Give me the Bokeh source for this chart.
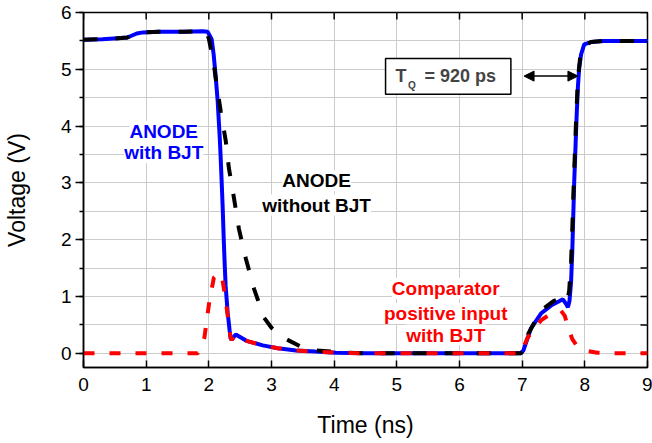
import math
from bokeh.plotting import figure
from bokeh.models import (Range1d, FixedTicker, SingleIntervalTicker,
                          Label, BoxAnnotation, Arrow, NormalHead)
from bokeh.embed import file_html
from bokeh.resources import INLINE

# ---- data (time in ns, voltage in V) ----
t_blue = [0, 0.3, 0.6, 0.7, 0.85, 0.95, 1.2, 1.6, 1.9, 1.98, 2.045, 2.077, 2.109,
          2.141, 2.173, 2.188, 2.204, 2.22, 2.236, 2.252, 2.268, 2.30, 2.332, 2.348,
          2.365, 2.43, 2.6, 2.86, 3.1, 3.39, 3.7, 4.03, 4.5, 5.0, 6.0, 6.98, 7.02,
          7.14, 7.3, 7.46, 7.65, 7.7, 7.73, 7.755, 7.78, 7.80, 7.815, 7.83, 7.85,
          7.87, 7.89, 7.91, 7.94, 7.99, 8.1, 8.3, 9.0]
v_blue = [5.52, 5.53, 5.55, 5.56, 5.63, 5.65, 5.66, 5.66, 5.67, 5.66, 5.53, 5.26, 4.88,
          4.44, 3.82, 3.47, 3.04, 2.60, 2.07, 1.60, 1.19, 0.72, 0.40, 0.26,
          0.24, 0.33, 0.22, 0.14, 0.09, 0.05, 0.03, 0.01, 0.0, 0.0, 0.0, 0.0, 0.05,
          0.44, 0.70, 0.84, 0.95, 0.87, 0.81, 0.92, 1.25, 1.8, 2.4, 3.0, 3.6,
          4.2, 4.7, 5.02, 5.26, 5.44, 5.48, 5.5, 5.5]

t_black = [0, 0.3, 0.6, 0.7, 0.85, 0.95, 1.2, 1.6, 1.9, 1.96, 2.0, 2.08, 2.11, 2.19,
           2.27, 2.32, 2.40, 2.48, 2.59, 2.72, 2.88, 3.0, 3.18, 3.5, 3.71, 4.2,
           4.5, 5.0, 6.0, 6.98, 7.02, 7.1, 7.3, 7.5, 7.62, 7.68, 7.72, 7.75, 7.78,
           7.80, 7.82, 7.84, 7.86, 7.88, 7.90, 7.93, 7.98, 8.1, 8.3, 9.0]
v_black = [5.52, 5.53, 5.55, 5.56, 5.63, 5.65, 5.66, 5.66, 5.67, 5.65, 5.54, 5.09, 4.84, 4.26,
           3.74, 3.26, 2.74, 2.19, 1.67, 1.14, 0.63, 0.45, 0.28, 0.10, 0.05, 0.01,
           0.0, 0.0, 0.0, 0.0, 0.06, 0.35, 0.75, 0.92, 0.97, 0.94, 0.92, 1.1, 1.6,
           2.2, 2.9, 3.5, 4.1, 4.6, 4.95, 5.25, 5.42, 5.48, 5.5, 5.5]

t_red = [0, 1.0, 1.82, 1.88, 1.93, 2.01, 2.08, 2.16, 2.22, 2.27, 2.32, 2.35, 2.365,
         2.43, 2.6, 2.86, 3.1, 3.39, 3.7, 4.03, 4.5, 5.0, 6.0, 6.98, 7.09, 7.3,
         7.46, 7.62, 7.68, 7.73, 7.80, 7.88, 8.0, 8.2, 8.5, 9.0]
v_red = [0.0, 0.0, 0.0, 0.1, 0.28, 0.93, 1.33, 1.42, 1.28, 0.93, 0.5, 0.26, 0.24,
         0.33, 0.22, 0.14, 0.09, 0.05, 0.03, 0.01, 0.0, 0.0, 0.0, 0.0, 0.28, 0.58,
         0.70, 0.75, 0.66, 0.46, 0.25, 0.12, 0.05, 0.01, 0.0, 0.0]

x_ticks = [0, 1, 2, 3, 4, 5, 6, 7, 8, 9]
y_half_ticks = [0, 0.5, 1, 1.5, 2, 2.5, 3, 3.5, 4, 4.5, 5, 5.5, 6]
X_MIN, X_MAX = 0, 9
Y_MIN, Y_MAX = -0.25, 6

FONT = "Liberation Sans"

p = figure(frame_width=564, frame_height=355, output_backend="svg",
           toolbar_location=None,
           x_range=Range1d(X_MIN, X_MAX), y_range=Range1d(Y_MIN, Y_MAX),
           min_border_left=73, min_border_right=5, min_border_top=12,
           min_border_bottom=10)
p.background_fill_color = "white"
p.border_fill_color = "white"
p.outline_line_color = "black"
p.outline_line_width = 1.5

# grid
p.xgrid.ticker = FixedTicker(ticks=x_ticks)
p.ygrid.ticker = FixedTicker(ticks=y_half_ticks)
for g in (p.xgrid, p.ygrid):
    g.grid_line_color = "#cccccc"
    g.grid_line_width = 1

# bottom axis
xa = p.xaxis[0]
xa.ticker = FixedTicker(ticks=x_ticks)
xa.major_tick_in = 7
xa.major_tick_out = 0
xa.minor_tick_line_color = None
xa.major_label_standoff = 10
xa.axis_label = "Time (ns)"
xa.axis_label_standoff = 18

# left axis
ya = p.yaxis[0]
ya.ticker = SingleIntervalTicker(interval=1, num_minor_ticks=2)
ya.major_tick_in = 0
ya.major_tick_out = 8
ya.minor_tick_in = 0
ya.minor_tick_out = 4
ya.major_label_standoff = 4
ya.axis_label = "Voltage (V)"
ya.axis_label_standoff = 28

for ax in (xa, ya):
    ax.axis_line_width = 1.5
    ax.major_tick_line_width = 1.5
    ax.minor_tick_line_width = 1.5
    ax.axis_line_color = "black"
    ax.major_label_text_font = FONT
    ax.major_label_text_font_size = "19px"
    ax.major_label_text_color = "black"
    ax.axis_label_text_font = FONT
    ax.axis_label_text_font_size = "23px"
    ax.axis_label_text_font_style = "normal"
    ax.axis_label_text_color = "black"

# mirrored inward ticks on the top and right frame edges
p.ray(x=x_ticks, y=[Y_MAX] * len(x_ticks), length=7, length_units="screen",
      angle=-math.pi / 2, line_color="black", line_width=1.5)
p.ray(x=[X_MAX] * len(y_half_ticks), y=y_half_ticks, length=7, length_units="screen",
      angle=math.pi, line_color="black", line_width=1.5)

# curves
p.line(t_blue, v_blue, line_color="#0000ff", line_width=4)
p.line(t_black, v_black, line_color="black", line_width=4, line_dash="14 18")
p.line(t_red, v_red, line_color="#ff0000", line_width=4, line_dash="11 15")

# annotations
def lab(x, y, text, color, size="19px", align="center"):
    p.add_layout(Label(x=x, y=y, text=text, text_color=color, text_font=FONT,
                       text_font_size=size, text_font_style="bold",
                       text_align=align, text_baseline="middle",
                       background_fill_color="white"))

lab(1.28, 3.91, "ANODE", "#0000ff")
lab(1.28, 3.53, "with BJT", "#0000ff")
lab(3.72, 3.04, "ANODE", "black")
lab(3.72, 2.61, "without BJT", "black")
lab(5.78, 1.14, "Comparator", "#ff0000")
lab(5.78, 0.70, "positive input", "#ff0000")
lab(5.78, 0.32, "with BJT", "#ff0000")

p.add_layout(BoxAnnotation(left=4.82, right=6.82, bottom=4.56, top=5.19,
                           fill_color="white", fill_alpha=1.0,
                           line_color="black", line_alpha=1.0, line_width=1.5))
p.add_layout(Label(x=4.98, y=4.88, text="T", text_font=FONT, text_font_size="18px",
                   text_font_style="bold", text_align="left", text_baseline="middle"))
p.add_layout(Label(x=5.18, y=4.72, text="Q", text_font=FONT, text_font_size="10px",
                   text_font_style="bold", text_align="left", text_baseline="middle"))
p.add_layout(Label(x=5.44, y=4.88, text="= 920 ps", text_font=FONT,
                   text_font_size="18px", text_font_style="bold", text_align="left",
                   text_baseline="middle"))

p.add_layout(Arrow(start=NormalHead(size=10, fill_color="black", line_color="black"),
                   end=NormalHead(size=10, fill_color="black", line_color="black"),
                   x_start=7.03, y_start=4.88, x_end=7.89, y_end=4.88,
                   line_width=1.5, line_color="black"))

open("out.html", "w").write(file_html(p, INLINE))
